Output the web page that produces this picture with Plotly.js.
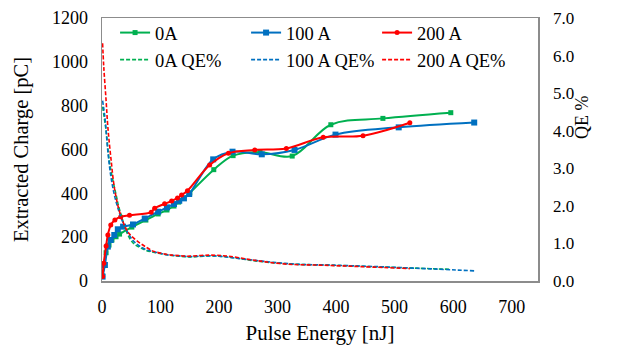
<!DOCTYPE html>
<html><head><meta charset="utf-8">
<script src="https://cdn.plot.ly/plotly-3.0.1.min.js"></script>
<style>
html,body{margin:0;padding:0;background:#fff}
#chart{width:621px;height:349px}
</style>
</head><body><div id="chart"></div>
<script>
// Extracted charge [pC] vs pulse energy [nJ]
const x0A   = [1,7,12,17,24,30,51,75,96,111,123,131,140,150,191,224,270,325,391,480,596];
const q0A   = [23,129,164,187,202,214,246,278,306,324,342,360,379,402,508,572,588,570,713,742,768];
const qe0A  = [4.64,4.0,3.25,2.8,2.3,1.9,1.05,0.82,0.74,0.70,0.67,0.66,0.65,0.64,0.67,0.62,0.52,0.45,0.42,0.37,0.31];

const x100  = [1,5,10,15,21,27,36,53,73,96,111,123,132,140,149,190,223,273,329,399,507,636];
const q100  = [20,73,157,187,210,236,248,258,285,316,336,351,366,377,397,555,590,578,598,668,701,723];
const qe100 = [4.80,4.35,3.45,2.8,2.3,1.95,1.55,1.08,0.85,0.75,0.70,0.68,0.67,0.66,0.65,0.67,0.62,0.53,0.45,0.42,0.36,0.27];

const x200  = [1,3,7,10,15,22,32,47,84,90,107,119,129,136,146,184,216,261,315,378,446,526];
const q200  = [20,81,160,210,255,278,293,300,314,332,352,365,379,392,412,529,583,598,605,656,663,722];
const qe200 = [6.33,5.7,4.8,4.1,3.3,2.4,1.75,1.25,0.82,0.78,0.72,0.69,0.68,0.67,0.66,0.69,0.66,0.55,0.45,0.42,0.38,0.33];

const names = ['0A','100 A','200 A'];
const qeNames = ['0A QE%','100 A QE%','200 A QE%'];
const xTicks = [0,100,200,300,400,500,600,700];
const yTicks = [0,200,400,600,800,1000,1200];
const y2Ticks = [0,1,2,3,4,5,6,7];

const GREEN='#00B050', BLUE='#0070C0', RED='#FF0000';
const font = "'Liberation Serif', serif";

const traces = [
  {x:x0A, y:q0A, name:names[0], mode:'lines+markers', line:{color:GREEN,width:2,shape:'spline'}, marker:{symbol:'square',size:5,color:GREEN}},
  {x:x100,y:q100,name:names[1], mode:'lines+markers', line:{color:BLUE,width:2,shape:'spline'}, marker:{symbol:'square',size:6,color:BLUE}},
  {x:x200,y:q200,name:names[2], mode:'lines+markers', line:{color:RED,width:2,shape:'spline'}, marker:{symbol:'circle',size:5,color:RED}},
  {x:x0A, y:qe0A, name:qeNames[0], yaxis:'y2', mode:'lines', line:{color:GREEN,width:1.6,dash:'4px,2px',shape:'spline'}},
  {x:x100,y:qe100,name:qeNames[1], yaxis:'y2', mode:'lines', line:{color:BLUE,width:1.6,dash:'4px,2px',shape:'spline'}},
  {x:x200,y:qe200,name:qeNames[2], yaxis:'y2', mode:'lines', line:{color:RED,width:1.6,dash:'4px,2px',shape:'spline'}}
];

const layout = {
  width:621, height:349,
  margin:{l:102, r:83, t:18, b:68},
  paper_bgcolor:'#fff', plot_bgcolor:'#fff',
  font:{family:font, size:18, color:'#000'},
  showlegend:true,
  legend:{orientation:'h', x:0.03, y:1.015, xanchor:'left', yanchor:'top',
          entrywidth:86, entrywidthmode:'pixels', traceorder:'normal',
          font:{family:font, size:18.5, color:'#000'}, bgcolor:'rgba(0,0,0,0)', tracegroupgap:0},
  xaxis:{range:[0,745], tickvals:xTicks, ticktext:xTicks.map(String), showgrid:false, zeroline:false,
         showline:true, linecolor:'#8c8c8c', linewidth:1.5, mirror:true, ticks:'', ticklabelstandoff:9,
         tickfont:{family:font,size:18},
         title:{text:'Pulse Energy [nJ]', font:{family:font,size:21}, standoff:9}},
  yaxis:{range:[0,1200], tickvals:yTicks, ticktext:yTicks.map(String), showgrid:false, zeroline:false,
         showline:true, linecolor:'#8c8c8c', linewidth:1.5, mirror:true, ticks:'', ticklabelstandoff:9,
         tickfont:{family:font,size:18},
         title:{text:'Extracted Charge [pC]', font:{family:font,size:20.5}, standoff:17}},
  yaxis2:{range:[0,7], overlaying:'y', side:'right', tickvals:y2Ticks, ticktext:y2Ticks.map(v=>v.toFixed(1)),
          showgrid:false, zeroline:false, showline:false, ticks:'', ticklabelstandoff:14,
          tickfont:{family:font,size:17}},
  annotations:[{text:'QE %', xref:'paper', yref:'paper', x:(582-102)/436, y:(281-117)/263,
                xanchor:'center', yanchor:'middle',
                showarrow:false, textangle:-90, font:{family:font,size:18,color:'#000'}}]
};

Plotly.newPlot('chart', traces, layout, {displayModeBar:false, staticPlot:true});
</script></body></html>
